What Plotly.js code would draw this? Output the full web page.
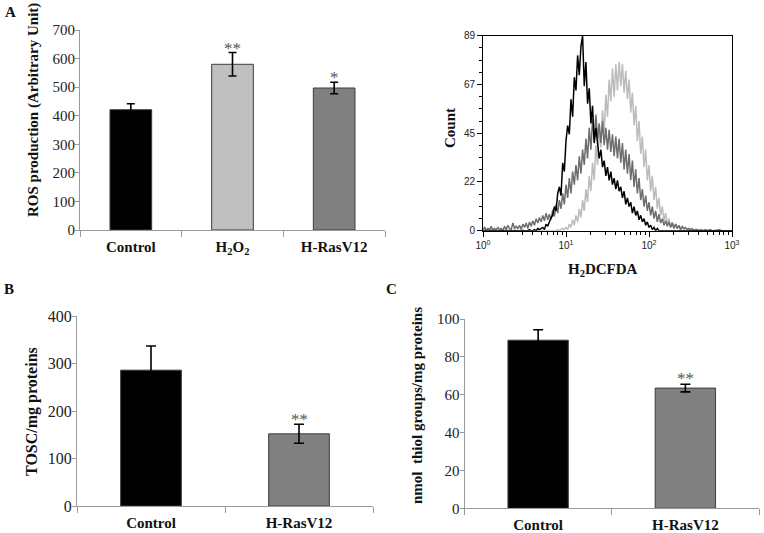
<!DOCTYPE html>
<html>
<head>
<meta charset="utf-8">
<script src="https://cdn.plot.ly/plotly-3.0.1.min.js"></script>
<style>
html,body{margin:0;padding:0;background:#fff;}
#chart{width:764px;height:533px;}
</style>
</head>
<body>
<div id="chart"></div>
<script>
// ---------- Panel A (left): ROS production ----------
const rosCategories = ["Control", "H<sub>2</sub>O<sub>2</sub>", "H-RasV12"];
const rosValues = [421, 580, 497];
const rosErrors = [21, 41, 20];
const rosColors = ["#000000", "#c0c0c0", "#808080"];
const rosMarks = ["", "**", "*"];

// ---------- Panel A (right): H2DCFDA flow histogram ----------
const logIntensity = [0.00,0.02,0.04,0.06,0.08,0.10,0.12,0.14,0.16,0.18,0.20,0.22,0.24,0.26,0.28,0.30,0.32,0.34,0.36,0.38,
0.40,0.42,0.44,0.46,0.48,0.50,0.52,0.54,0.56,0.58,0.60,0.62,0.64,0.66,0.68,0.70,0.72,0.74,0.76,0.78,
0.80,0.82,0.84,0.86,0.88,0.90,0.92,0.94,0.96,0.98,1.00,1.02,1.04,1.06,1.08,1.10,1.12,1.14,1.16,1.18,
1.20,1.22,1.24,1.26,1.28,1.30,1.32,1.34,1.36,1.38,1.40,1.42,1.44,1.46,1.48,1.50,1.52,1.54,1.56,1.58,
1.60,1.62,1.64,1.66,1.68,1.70,1.72,1.74,1.76,1.78,1.80,1.82,1.84,1.86,1.88,1.90,1.92,1.94,1.96,1.98,
2.00,2.02,2.04,2.06,2.08,2.10,2.12,2.14,2.16,2.18,2.20,2.22,2.24,2.26,2.28,2.30,2.32,2.34,2.36,2.38,
2.40,2.42,2.44,2.46,2.48,2.50,2.52,2.54,2.56,2.58,2.60,2.62,2.64,2.66,2.68,2.70,2.72,2.74,2.76,2.78,
2.80,2.82,2.84,2.86,2.88,2.90,2.92,2.94,2.96,2.98,3.00];

const countControl = [0,0,0,0,0,0,0,0,0,0, 0,0,0,0,0,0,0,0,0,0, 0,0,0,0,0,0,0,0,0.5,0, 0,0.5,0,1,0.5,1,
1.5,0.5,3,2,4.5,6,7,11,9,17,20,16,31,27,41,48,44,60,52,70,64,80,71,84,89,66,77,58,65,49,57,40,47,39,
33,37,29,32,25,29,23,27,21,24,19,23,18,20,15,18,12,15,11,13,8,11,7,9,5,7,4,5.5,2.5,4,1.5,2.5,0.5,1.5,0,1,0,
0,0,0,0,0,0,0,0,0,0,0,0,0,0,0,0,0,0,0,0,0,0,0,0,0,0,0,0,0,0,0,0,0,0,0,0,0,0,0,0,0,0,0,0];

const countRas = [0.5,1.5,0,1,0.5,2,0,1,0.5,1.5,0.5,
1,0,2,0.5,2.5,1,0.5,3.5,1,2,
1,2.5,0.5,3,1.5,3.5,1,4,2,4.5,
2.5,5.5,3.5,6,4,7,4.5,8,5,7.5,
5,9.5,6.5,12,8,14,10,17,12,21,
15,24,17,27,21,30,23,34,26,37,
30,42,33,47,37,51,41,53,42,49,
40,50,39,47,37,46,36,44,34,43,
33,42,31,40,28,37,26,35,23,32,
20,28,17,24,14,19,11,16,9,13,
7,11,5.5,9,4,7.5,3.5,5.5,2.5,4.5,
2,4,1.5,3.5,1,3,1,2.5,0.5,2,
1,1.5,0.5,1,0.5,1,0,0.5,0.5,0,
0.5,0,0,0.5,0,0,0.5,0,0,0,
0,0.5,0,0,0,0,0,0,0,0];

const countH2O2 = [0.5,0,1,0.5,0,0.5,1,0,0.5,0,0.5,
0,0.5,0,0,0.5,0,0,0,0.5,0,
0,0,0,0.5,0,0,0,0,0,0,
0,0,0,0,0,0,0,0,0,0,
0,0,0,0,0.5,0,0.5,1,0.5,1.5,
0.5,3,1.5,5,2.5,7,4,10,6,14,
9,19,13,25,18,31,23,39,30,47,
38,55,45,62,52,69,59,74,61,76,
64,77,66,76,63,73,60,69,54,63,
48,57,41,50,35,43,29,37,23,30,
18,25,14,20,10,15,7,11,4.5,8,
3,5.5,2,4,1.5,3,1,2,0.5,1.5,
0.5,1,0.5,0.5,0,0.5,0,0.5,0,0,
0,0.5,0,0,0,0.5,0,0,0,0.5,
0,0,0.5,0,0,0,0,0,0,0];

const histYTickVals = [0, 22.25, 44.5, 66.75, 89];
const histYTickText = ["0", "22", "45", "67", "89"];
const histXTickVals = [1, 10, 100, 1000];
const histXTickText = ["10<sup>0</sup>", "10<sup>1</sup>", "10<sup>2</sup>", "10<sup>3</sup>"];

// ---------- Panel B: TOSC ----------
const toscCategories = ["Control", "H-RasV12"];
const toscValues = [286, 152];
const toscErrors = [51, 20];
const toscColors = ["#000000", "#808080"];
const toscMarks = ["", "**"];

// ---------- Panel C: thiol groups ----------
const thiolCategories = ["Control", "H-RasV12"];
const thiolValues = [88.8, 63.5];
const thiolErrors = [5.5, 2];
const thiolColors = ["#000000", "#808080"];
const thiolMarks = ["", "**"];

// ---------- build ----------
const W = 764, H = 533;
const serif = "Liberation Serif, Times New Roman, serif";
const sans = "Liberation Sans, Arial, sans-serif";
const px = v => v / W;
const py = v => 1 - v / H;

const traces = [];

function barTrace(cats, vals, errs, colors, xa, ya, errW) {
  return {
    type: "bar", x: cats, y: vals, xaxis: xa, yaxis: ya,
    marker: {color: colors, line: {color: "#3c3c3c", width: 1}},
    error_y: {type: "data", array: errs, visible: true, color: "#000", thickness: 1.6, width: errW},
    hoverinfo: "none", showlegend: false
  };
}
traces.push(barTrace(rosCategories, rosValues, rosErrors, rosColors, "x", "y", 4));
traces.push(barTrace(toscCategories, toscValues, toscErrors, toscColors, "x3", "y3", 5));
traces.push(barTrace(thiolCategories, thiolValues, thiolErrors, thiolColors, "x4", "y4", 5));

const histX = logIntensity.map(v => Math.pow(10, v));
function histTrace(counts, color) {
  return {type: "scatter", mode: "lines", x: histX, y: counts, xaxis: "x2", yaxis: "y2",
    line: {color: color, width: 1.5}, hoverinfo: "none", showlegend: false};
}
traces.push(histTrace(countH2O2, "#bcbcbc"));
traces.push(histTrace(countRas, "#6e6e6e"));
traces.push(histTrace(countControl, "#000000"));

function barXAxis(domain, anchor, fs, standoff) {
  return {domain: domain, anchor: anchor, type: "category", showline: true, linecolor: "#9a9a9a", linewidth: 1,
    ticks: "outside", tickson: "boundaries", ticklen: 6, tickcolor: "#9a9a9a", showgrid: false, zeroline: false,
    ticklabelstandoff: standoff,
    tickfont: {family: serif, size: fs, color: "#111", weight: "bold"}, fixedrange: true};
}
function barYAxis(domain, anchor, range, dtick, fs) {
  return {domain: domain, anchor: anchor, range: range, dtick: dtick, showline: true, linecolor: "#9a9a9a", linewidth: 1,
    ticks: "outside", ticklen: 4, tickcolor: "#9a9a9a", showgrid: false, zeroline: false,
    ticklabelstandoff: -3,
    tickfont: {family: serif, size: fs, color: "#222"}, fixedrange: true};
}

const minorLogTicks = [2,3,4,5,6,7,8,9,20,30,40,50,60,70,80,90,200,300,400,500,600,700,800,900];

const annotations = [];
function mark(cats, vals, errs, marks, xa, ya, shift) {
  cats.forEach((c, i) => {
    if (!marks[i]) return;
    annotations.push({x: c, y: vals[i] + errs[i], xref: xa, yref: ya, text: marks[i], showarrow: false,
      yanchor: "bottom", yshift: shift, font: {family: serif, size: 17, color: "#555"}});
  });
}
mark(rosCategories, rosValues, rosErrors, rosMarks, "x", "y", -7);
mark(toscCategories, toscValues, toscErrors, toscMarks, "x3", "y3", -7);
mark(thiolCategories, thiolValues, thiolErrors, thiolMarks, "x4", "y4", -6);

function label(text, x, y, size, angle) {
  annotations.push({text: text, x: px(x), y: py(y), xref: "paper", yref: "paper", showarrow: false,
    xanchor: "center", yanchor: "middle", textangle: angle || 0,
    font: {family: serif, size: size, color: "#111"}});
}
label("<b>A</b>", 10, 12, 15);
label("<b>B</b>", 9, 289, 15);
label("<b>C</b>", 391, 289, 15);
label("<b>ROS production (Arbitrary Unit)</b>", 33, 110, 15, -90);
label("<b>Count</b>", 450, 128, 15, -90);
label("<b>H<sub>2</sub>DCFDA</b>", 603, 270, 15);
label("<b>TOSC/mg proteins</b>", 32, 412, 16, -90);
label("<b>nmol  thiol groups/mg proteins</b>", 417, 405, 15, -90);

const layout = {
  width: W, height: H, autosize: false,
  margin: {l: 0, r: 0, t: 0, b: 0},
  paper_bgcolor: "#fff", plot_bgcolor: "rgba(0,0,0,0)",
  showlegend: false, bargap: 0.59,
  xaxis: barXAxis([px(80), px(385)], "y", 15, 3),
  yaxis: barYAxis([py(230), py(30)], "x", [0, 700], 100, 15),
  xaxis2: {domain: [px(483), px(732)], anchor: "y2", type: "log", range: [0, 3],
    tickvals: histXTickVals, ticktext: histXTickText, ticks: "outside", ticklen: 5, tickcolor: "#000",
    showline: true, mirror: true, linecolor: "#000", linewidth: 1, showgrid: false, zeroline: false,
    minor: {tickmode: "array", tickvals: minorLogTicks, ticks: "outside", ticklen: 3, tickcolor: "#000", showgrid: false},
    tickfont: {family: sans, size: 10, color: "#222"}, fixedrange: true},
  yaxis2: {domain: [py(230.7), py(35.7)], anchor: "x2", range: [0, 89],
    tickvals: histYTickVals, ticktext: histYTickText, ticks: "outside", ticklen: 5, tickcolor: "#000",
    showline: true, mirror: true, linecolor: "#000", linewidth: 1, showgrid: false, zeroline: false,
    minor: {dtick: 5.5625, tick0: 0, ticks: "outside", ticklen: 3, tickcolor: "#000", showgrid: false},
    tickfont: {family: sans, size: 10, color: "#222"}, fixedrange: true},
  xaxis3: barXAxis([px(77), px(373)], "y3", 15, 3),
  yaxis3: barYAxis([py(506), py(316)], "x3", [0, 400], 100, 16),
  xaxis4: barXAxis([px(464.5), px(759)], "y4", 15, 3),
  yaxis4: barYAxis([py(508.3), py(319)], "x4", [0, 100], 20, 15),
  annotations: annotations
};

Plotly.newPlot("chart", traces, layout, {displayModeBar: false, staticPlot: true});
</script>
</body>
</html>
